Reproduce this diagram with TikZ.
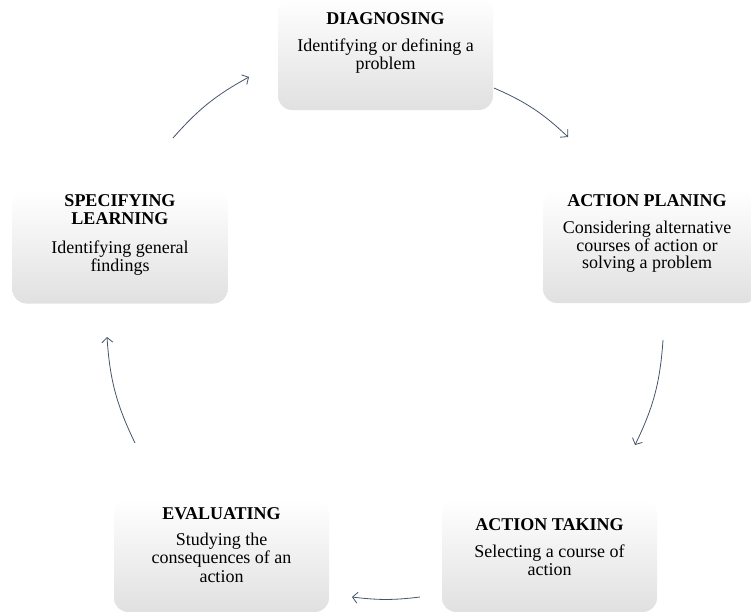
\documentclass[tikz,border=0pt]{standalone}
\usepackage{fontspec}
\setmainfont{Liberation Serif}
\usepackage{tikz}
\usetikzlibrary{arrows.meta}
\usetikzlibrary{calc}

\definecolor{cyclecol}{HTML}{44546A}

\begin{document}
\begin{tikzpicture}[x=1pt, y=-1pt,
    stagebox/.style={rounded corners=14pt, minimum width=215pt,
      minimum height=113pt, inner sep=0pt,
      top color=white, middle color=white, bottom color=black!12},
    stagetext/.style={align=center, font=\fontsize{18}{18.5}\selectfont},
    cycarrow/.style={draw=cyclecol, line width=0.8pt,
      -{Straight Barb[length=5pt, width=11pt]}}]

    \useasboundingbox (0, 0) rectangle (751, 611);

    \node[stagebox] (diag) at (385.5, 53.5) {};
    \node[stagebox] (plan) at (650.5, 246.5) {};
    \node[stagebox] (take) at (549.5, 555.5) {};
    \node[stagebox] (eval) at (221.5, 555.5) {};
    \node[stagebox] (spec) at (120, 247) {};

    \node[stagetext] (diagtext) at (385.5, 43)
      {\textbf{DIAGNOSING}\\[8.5pt]Identifying or defining a\\problem};
    \node[stagetext, font=\fontsize{18}{16.5}\selectfont] (plantext) at (647, 233.5)
      {\textbf{ACTION PLANING}\\[10.5pt]Considering alternative\\courses of action or\\solving a problem};
    \node[stagetext] (taketext) at (549.5, 547.5)
      {\textbf{ACTION TAKING}\\[8pt]Selecting a course of\\action};
    \node[stagetext] (evaltext) at (221.5, 545)
      {\textbf{EVALUATING}\\[7.5pt]Studying the\\consequences of an\\action};
    \node[stagetext, font=\fontsize{18}{17.5}\selectfont] (spectext) at (120, 235)
      {\textbf{SPECIFYING}\\\textbf{LEARNING}\\[12pt]Identifying general\\findings};

    \coordinate (diagout) at (494, 88);
    \coordinate (planin) at (568, 137);
    \coordinate (planout) at (663, 340);
    \coordinate (takein) at (635, 445);
    \coordinate (takeout) at (420, 597);
    \coordinate (evalin) at (352, 597);
    \coordinate (evalout) at (135, 443);
    \coordinate (specin) at (107, 337);
    \coordinate (specout) at (173, 138);
    \coordinate (diagin) at (249, 77);

    \draw[cycarrow] (diagout) to[bend left=10] (planin);
    \draw[cycarrow] (planout) to[bend left=11] (takein);
    \draw[cycarrow] (takeout) to[bend left=7] (evalin);
    \draw[cycarrow] (evalout) to[bend left=11] (specin);
    \draw[cycarrow] (specout) to[bend left=10] (diagin);

  \end{tikzpicture}
\end{document}
